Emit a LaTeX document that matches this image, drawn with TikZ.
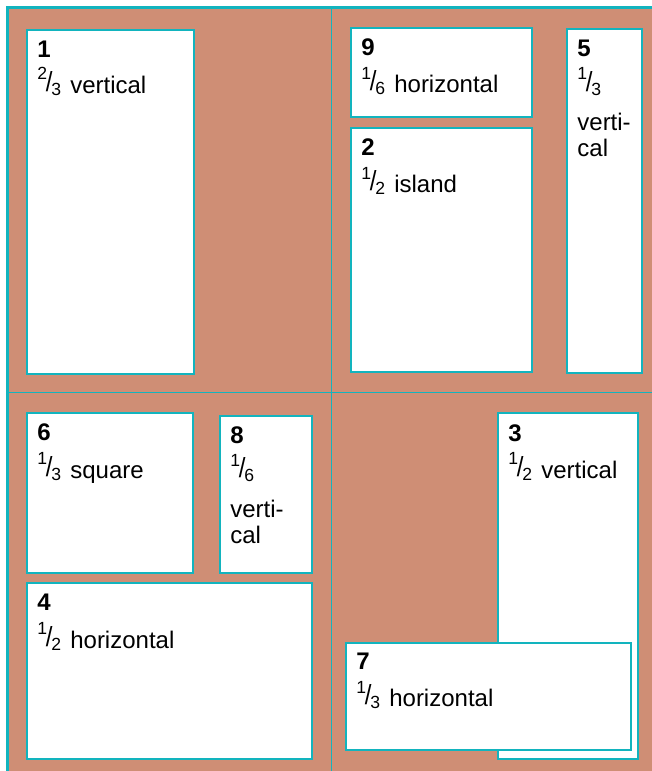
\documentclass[tikz,border=0pt]{standalone}
\usepackage{fontspec}
\setmainfont{Liberation Sans}
\usetikzlibrary{positioning}

\definecolor{pagebg}{RGB}{207,142,117}
\definecolor{rulecol}{RGB}{18,180,190}

% small fraction: raised numerator, slash, lowered denominator
\newcommand{\frc}[2]{\raisebox{.55em}{\fontsize{8.8}{8.8}\selectfont #1}\kern-.05em\raisebox{.08em}{\scalebox{1}[1.15]{/}}\kern-.05em\raisebox{-.1em}{\fontsize{8.8}{8.8}\selectfont #2}\kern.1em\relax}

\begin{document}
\begin{tikzpicture}[x=0.5pt, y=-0.5pt,
    panel/.style={draw=rulecol, fill=white, line width=0.6pt},
    num/.style={anchor=base west, inner sep=0pt, font=\fontsize{12}{13}\selectfont\bfseries},
    desc/.style={anchor=base west, inner sep=0pt, font=\fontsize{12}{13}\selectfont}]
    \useasboundingbox (0,0) rectangle (652,771);
    % page and quarter rules
    \fill [pagebg] (7.5,7.5) rectangle (652,771);
    \draw [rulecol, line width=0.5pt] (331.5,7.5) -- (331.5,771);
    \draw [rulecol, line width=0.5pt] (7.5,392) -- (652,392);
    \draw [rulecol, line width=1.5pt] (7.5,771) -- (7.5,7.5) -- (652,7.5);

    % top left
    \draw [panel] (27,30) rectangle (194,374);
    \node [num] (n1) at (37,57) {1};
    \node [desc] (d1) at (37,93) {\frc23 vertical};

    % top right
    \draw [panel] (351,28) rectangle (532,117);
    \node [num] (n9) at (361,55) {9};
    \node [desc] (d9) at (361,92.5) {\frc16 horizontal};
    \draw [panel] (351,128) rectangle (532,372);
    \node [num] (n2) at (361,155) {2};
    \node [desc] (d2) at (361,192.5) {\frc12 island};
    \draw [panel] (567,29) rectangle (642,373);
    \node [num] (n5) at (577,56) {5};
    \node [desc] (d5) at (577,93) {\frc13};
    \node [desc] (d5a) at (577,130.5) {verti-};
    \node [desc] (d5b) at (577,156) {cal};

    % bottom left
    \draw [panel] (27,413) rectangle (193,573);
    \node [num] (n6) at (37,440.5) {6};
    \node [desc] (d6) at (37,478) {\frc13 square};
    \draw [panel] (220,416) rectangle (312,573);
    \node [num] (n8) at (230,443) {8};
    \node [desc] (d8) at (230,479.5) {\frc16};
    \node [desc] (d8a) at (230,517) {verti-};
    \node [desc] (d8b) at (230,543) {cal};
    \draw [panel] (27,583) rectangle (312,759);
    \node [num] (n4) at (37,610) {4};
    \node [desc] (d4) at (37,648) {\frc12 horizontal};

    % bottom right
    \draw [panel] (498,413) rectangle (638,759);
    \node [num] (n3) at (508,441) {3};
    \node [desc] (d3) at (508,478) {\frc12 vertical};
    \draw [panel] (346,643) rectangle (631,750);
    \node [num] (n7) at (356,669) {7};
    \node [desc] (d7) at (356,706.5) {\frc13 horizontal};
\end{tikzpicture}
\end{document}
